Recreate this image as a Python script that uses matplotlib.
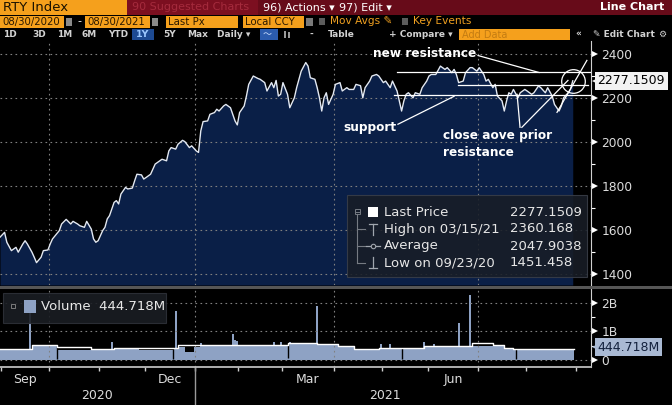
import matplotlib
matplotlib.use("Agg")
import matplotlib.pyplot as plt
import matplotlib.transforms as mtransforms
from matplotlib.patches import Rectangle
import pandas as pd

# RTY Index, Bloomberg line chart 08/30/2020 - 08/30/2021.
# x axis = trading session number counted from 08/31/2020 (Bloomberg skips non-trading days)
holidays = ["2020-09-07", "2020-11-26", "2020-12-25", "2021-01-01", "2021-01-18",
            "2021-02-15", "2021-04-02", "2021-05-31", "2021-07-05", "2021-09-06"]
sessions = pd.bdate_range("2020-08-31", "2021-09-03")
sessions = sessions[~sessions.isin(pd.to_datetime(holidays))]

price_day = [0, 2, 3, 5, 7, 8, 10, 11, 12, 14, 15, 16, 18, 19, 21, 22, 23, 26, 27, 29,
             31, 32, 34, 35, 37, 38, 40, 41, 42, 43, 45, 46, 47, 48, 50, 51, 52, 53, 55, 56,
             58, 59, 60, 62, 63, 64, 66, 67, 68, 70, 71, 73, 74, 75, 77, 78, 80, 81, 83, 84,
             86, 87, 88, 89, 91, 92, 94, 95, 96, 98, 99, 101, 102, 103, 104, 105, 107, 108, 109, 111,
             113, 114, 116, 117, 119, 120, 121, 122, 123, 124, 126, 127, 129, 130, 132, 134, 135, 136, 138, 139,
             140, 141, 142, 143, 144, 146, 147, 149, 150, 152, 153, 155, 156, 158, 159, 160, 162, 163, 165, 166,
             168, 169, 171, 172, 174, 175, 176, 177, 178, 179, 181, 182, 184, 185, 187, 188, 189, 191, 193, 195,
             196, 198, 199, 200, 201, 203, 204, 206, 207, 209, 210, 212, 213, 214, 216, 217, 218, 220, 221, 222,
             223, 224, 225, 227, 228, 230, 231, 233, 234, 236, 237, 239, 240, 242, 243, 245, 246, 247, 249, 250,
             251]
price_val = [1567, 1589, 1544, 1506, 1521, 1499, 1536, 1551, 1536, 1499, 1476, 1451.46, 1476, 1506, 1509, 1536, 1559, 1597, 1627, 1648,
             1627, 1639, 1627, 1619, 1612, 1639, 1604, 1559, 1544, 1551, 1597, 1612, 1650, 1665, 1725, 1733, 1718, 1763, 1793, 1786,
             1790, 1823, 1853, 1850, 1831, 1838, 1853, 1876, 1899, 1914, 1921, 1914, 1959, 1974, 1967, 1989, 2007, 2001, 1974, 1982,
             1959, 1952, 2050, 2092, 2095, 2125, 2133, 2148, 2140, 2163, 2170, 2155, 2125, 2095, 2077, 2133, 2163, 2208, 2261, 2299,
             2288, 2284, 2269, 2231, 2269, 2246, 2279, 2208, 2216, 2269, 2216, 2155, 2200, 2246, 2321, 2360.17, 2344, 2291, 2284, 2246,
             2200, 2140, 2200, 2223, 2170, 2216, 2261, 2269, 2231, 2246, 2238, 2238, 2261, 2255, 2200, 2246, 2276, 2299, 2306, 2299,
             2269, 2276, 2246, 2276, 2231, 2186, 2140, 2186, 2216, 2223, 2200, 2223, 2216, 2246, 2276, 2299, 2306, 2306, 2344, 2329,
             2337, 2314, 2329, 2306, 2269, 2276, 2314, 2337, 2337, 2321, 2337, 2306, 2276, 2284, 2246, 2261, 2208, 2186, 2140, 2186,
             2223, 2216, 2238, 2200, 2223, 2238, 2231, 2216, 2223, 2254, 2246, 2223, 2246, 2208, 2170, 2140, 2163, 2200, 2223, 2238,
             2277.1509]

# volume, billions of shares
vol_step_day = [0, 14, 25, 40, 50, 61, 76, 78, 81, 85, 88, 105, 126, 139, 148, 155, 166, 186, 207, 221, 225]
vol_step_val = [0.375, 0.51, 0.37, 0.34, 0.40, 0.37, 0.40, 0.45, 0.30, 0.45, 0.48, 0.49, 0.55, 0.51, 0.45,
                0.34, 0.40, 0.45, 0.50, 0.40, 0.34]
vol_spike_day = [13, 49, 77, 88, 102, 103, 104, 120, 123, 127, 139, 167, 171, 186, 190, 201, 206]
vol_spike_val = [1.70, 0.62, 1.73, 0.60, 0.90, 0.70, 0.68, 0.63, 0.63, 0.62, 1.90, 0.57, 0.55, 0.63, 0.55, 1.30, 2.27]
vol_dip_day = [25, 76, 126, 176, 226]
vol_dip_val = [0.05, 0.05, 0.08, 0.05, 0.05]
vol_avg_day = [0, 14, 25, 40, 50, 76, 78, 88, 105, 126, 139, 148, 155, 166, 186, 207, 216, 221, 225]
vol_avg_val = [0.40, 0.53, 0.45, 0.38, 0.43, 0.44, 0.52, 0.52, 0.52, 0.58, 0.55, 0.50, 0.40, 0.44, 0.50,
               0.60, 0.52, 0.42, 0.38]
vol_last = 0.444718

# hand-drawn annotations (session, price)
ann_new_res = ([174, 258.5], [2317, 2317])
ann_mid_res = ([200.7, 257.7], [2260, 2260])
ann_support = ([172.7, 259], [2211, 2211])
ann_pointers = [([209.5, 236.2], [2392, 2315]),     # new resistance
                ([174.4, 199.0], [2080, 2207]),     # support
                ([227.9, 226.6], [2066, 2216]),     # close above prior resistance
                ([228.7, 248.9], [2066, 2279]),
                ([244.1, 257.2], [2134, 2370])]

W, H = 672, 405
fig = plt.figure(figsize=(W / 100, H / 100), dpi=100, facecolor="black")


def frame(x0, y0, x1, y1):
    return [x0 / W, 1 - y1 / H, (x1 - x0) / W, (y1 - y0) / H]


axp = fig.add_axes(frame(0, 41, 591, 285), facecolor="black")
axv = fig.add_axes(frame(0, 289, 591, 367), facecolor="black")
ui = fig.add_axes([0, 0, 1, 1], facecolor="none", zorder=5)
ui.set_xlim(0, W); ui.set_ylim(H, 0); ui.axis("off")

navy = "#0a1f47"
vol_col = "#8ea2c4"
grid_kw = dict(color="#808080", lw=0.8, ls=(0, (1.5, 3)))
tick_col = "#dcdcdc"

# month / quarter positions from the session calendar
mstart = [i for i in range(1, len(sessions)) if sessions[i].month != sessions[i - 1].month]
qstart = [i for i in mstart if sessions[i].month in (1, 4, 7, 10)]

# ---- price panel
axp.set_xlim(0, 259)
axp.set_ylim(1350, 2458)
axp.fill_between(price_day, price_val, axp.get_ylim()[0], color=navy, lw=0, zorder=1)
axp.plot(price_day, price_val, color="#e3e9f3", lw=1.0, zorder=3)
for v in range(1400, 2401, 200):
    axp.axhline(v, zorder=2, **grid_kw)
for q in qstart:
    axp.axvline(q - 0.5, zorder=2, **grid_kw)
axp.set_yticks(range(1400, 2401, 200))
axp.set_yticks(range(1500, 2400, 200), minor=True)
axp.yaxis.tick_right()
axp.tick_params(axis="y", which="major", length=0, pad=7.5, labelcolor=tick_col, labelsize=8.8)
axp.tick_params(axis="y", which="minor", length=3, width=0.8, color="white", direction="out")
axp.set_xticks([])
for sp in ("top", "left", "bottom"):
    axp.spines[sp].set_visible(False)
axp.spines["right"].set_color("#d0d0d0")
yb = mtransforms.blended_transform_factory(axp.transAxes, axp.transData)
for v in range(1400, 2401, 200):
    axp.plot(1.0065, v, marker=">", ms=4, color="white", mew=0, transform=yb, clip_on=False)

# annotations
for xs, ys in (ann_new_res, ann_mid_res, ann_support) + tuple(ann_pointers):
    axp.plot(xs, ys, color="white", lw=0.9, zorder=4)
axp.plot(price_day[-1], price_val[-1], marker="o", ms=17, mfc="none", mec="white", mew=0.9, zorder=4)
txt_kw = dict(color="white", fontsize=8.7, fontweight="bold", zorder=6)
axp.text(186.2, 2401, "new resistance", ha="center", va="center", **txt_kw)
axp.text(162.1, 2066, "support", ha="center", va="center", **txt_kw)
axp.text(194.1, 2030, "close aove prior", ha="left", va="center", **txt_kw)
axp.text(194.1, 1953, "resistance", ha="left", va="center", **txt_kw)

axp.plot(1.0065, price_val[-1], marker="<", ms=5, color="#f2f2f2", mew=0, transform=yb, clip_on=False, zorder=7)
axp.text(1.011, price_val[-1], f"{price_val[-1]:.4f}", transform=yb, ha="left", va="center",
         fontsize=9, color="black", clip_on=False, zorder=7,
         bbox=dict(boxstyle="square,pad=0.2", fc="#f2f2f2", ec="none"))

# ---- volume panel
end = price_day[-1] + 0.5
axv.set_xlim(0, 259)
axv.set_ylim(-0.24, 2.48)
axv.fill_between(vol_step_day + [end], vol_step_val + [vol_step_val[-1]], 0, step="post",
                 color=vol_col, lw=0, zorder=1)
axv.bar(vol_spike_day, vol_spike_val, width=0.9, color=vol_col, lw=0, zorder=1)
axv.vlines(vol_dip_day, vol_dip_val, 0.6, color="black", lw=1, zorder=2)
axv.step(vol_avg_day + [end], vol_avg_val + [vol_avg_val[-1]], where="post", color="white", lw=1, zorder=3)
for v in (0, 1, 2):
    axv.axhline(v, zorder=2.5, **grid_kw)
for q in qstart:
    axv.axvline(q - 0.5, zorder=2.5, **grid_kw)
axv.set_yticks([0, 1, 2])
axv.set_yticklabels(["0", "1B", "2B"])
axv.set_yticks([0.5, 1.5], minor=True)
axv.yaxis.tick_right()
axv.tick_params(axis="y", which="major", length=0, pad=7.5, labelcolor=tick_col, labelsize=8.8)
axv.tick_params(axis="y", which="minor", length=3, width=0.8, color="white", direction="out")
axv.set_xticks([m - 0.5 for m in mstart])
axv.set_xticklabels([])
axv.tick_params(axis="x", which="major", length=3, width=1, color="#cfcfcf", direction="out")
for sp in ("top", "left"):
    axv.spines[sp].set_visible(False)
axv.spines["right"].set_color("#d0d0d0")
axv.spines["bottom"].set_color("#bdbdbd")
axv.spines["bottom"].set_linewidth(1.3)
vb = mtransforms.blended_transform_factory(axv.transAxes, axv.transData)
for v in (0, 1, 2):
    axv.plot(1.0065, v, marker=">", ms=4, color="white", mew=0, transform=vb, clip_on=False)
axv.plot(1.0065, vol_last, marker="<", ms=5, color="#a9b9d3", mew=0, transform=vb, clip_on=False, zorder=7)
axv.text(1.011, vol_last, f"{vol_last * 1000:.3f}M", transform=vb, ha="left", va="center",
         fontsize=9, color="#13213d", clip_on=False, zorder=7,
         bbox=dict(boxstyle="square,pad=0.2", fc="#a9b9d3", ec="none"))

# month / year labels under the volume panel
xb = mtransforms.blended_transform_factory(axv.transData, axv.transAxes)
ndata = price_day[-1] + 1
for lab, yr, mo in (("Sep", 2020, 9), ("Dec", 2020, 12), ("Mar", 2021, 3), ("Jun", 2021, 6)):
    idx = [i for i in range(ndata) if sessions[i].year == yr and sessions[i].month == mo]
    axv.text((idx[0] + idx[-1]) / 2, -0.155, lab, transform=xb, ha="center", va="center",
             color=tick_col, fontsize=9, clip_on=False)
for yr in (2020, 2021):
    idx = [i for i in range(ndata) if sessions[i].year == yr]
    axv.text((idx[0] + idx[-1]) / 2, -0.36, str(yr), transform=xb, ha="center", va="center",
             color=tick_col, fontsize=9, clip_on=False)
ystart = [i for i in range(1, ndata) if sessions[i].year != sessions[i - 1].year][0]
axv.plot([ystart - 0.5] * 2, [0, -0.5], color="#9a9a9a", lw=1, transform=xb, clip_on=False)

# ---- terminal chrome
def t(x, y, s, **kw):
    kw.setdefault("va", "center")
    ui.text(x, y, s, **kw)


def rect(x, y, w, h, **kw):
    ui.add_patch(Rectangle((x, y), w, h, lw=kw.pop("lw", 0), **kw))


orange = "#f5a01c"
rect(0, 0, 127, 15, fc=orange)
rect(127, 0, 131, 15, fc="#7c0f20")
rect(258, 0, 414, 15, fc="#670b19")
t(3, 7.5, "RTY Index", color="#1b1200", fontsize=9.5)
t(132, 7.5, "90 Suggested Charts", color="#a52b3d", fontsize=8)
t(263, 7.5, "96) Actions ▾", color="white", fontsize=8)
t(339, 7.5, "97) Edit ▾", color="white", fontsize=8)
t(664, 7.5, "Line Chart", color="white", fontsize=8, fontweight="bold", ha="right")

for x0, x1, s in ((0, 64, "08/30/2020"), (85, 150, "08/30/2021"), (166, 238, "Last Px"), (243, 304, "Local CCY")):
    rect(x0, 16, x1 - x0, 11.5, fc=orange)
    t(x0 + 2, 22, s, color="#2a1800", fontsize=7.3)
for x0 in (66, 152):
    rect(x0, 17.5, 6, 8, fc="#8a8a8a")
t(77, 21.5, "-", color="white", fontsize=8)
rect(306, 17.5, 7, 8, fc="#7a7a7a")
rect(319, 18, 6, 6.5, fc="#5c5c5c")
t(330, 21.5, "Mov Avgs ✎", color="#f0a020", fontsize=7.6)
rect(402, 18, 6, 6.5, fc="#5c5c5c")
t(413, 21.5, "Key Events", color="#f0a020", fontsize=7.6)

rect(132, 29, 22, 11, fc="#1d4a92")
rect(260, 29, 18, 11, fc="#2b5cae")
bar_kw = dict(color="#d2d2d2", fontsize=6.5, fontweight="bold")
for x, s in ((3, "1D"), (32, "3D"), (57, "1M"), (82, "6M"), (108, "YTD"), (163, "5Y"),
             (187, "Max"), (217, "Daily ▾"), (309, "-"), (328, "Table"),
             (389, "+ Compare ▾"), (575, "«"), (593, "✎ Edit Chart"), (658, "⚙")):
    t(x, 34.5, s, **bar_kw)
t(136, 34.5, "1Y", color="#9cc8ff", fontsize=6.8, fontweight="bold")
t(263, 34.5, "〜", color="#cfe2ff", fontsize=6.5, family=["DejaVu Sans", "Noto Sans CJK JP"])
# candle-chart icon
rect(284, 31, 1.5, 7, fc="#9a9a9a")
rect(288, 32, 1.5, 6, fc="#9a9a9a")
rect(459, 29, 111, 11, fc=orange)
t(462, 34.5, "Add Data", color="#c47c12", fontsize=7)

# panel divider
rect(0, 285.5, W, 3, fc="#565656")

# price legend
rect(347, 195, 240, 82, fc="#181d26", ec="#3a3f49", lw=0.8, alpha=0.88)
leg_kw = dict(color="#e6e6e6", fontsize=9.5)
tree = "#767b83"
ui.plot([357, 357], [214, 263], color=tree, lw=0.8)
for y in (229, 246, 263):
    ui.plot([357, 365], [y, y], color=tree, lw=0.8)
rect(354.5, 209, 5, 5, fc="none", ec=tree, lw=0.7)
ui.plot([355.5, 358.5], [211.5, 211.5], color=tree, lw=0.7)
rect(368, 206.5, 10, 10, fc="white")
ui.plot([369, 377], [223.5, 223.5], color="#a0a6ae", lw=0.9)
ui.plot([373, 373], [223.5, 235], color="#a0a6ae", lw=0.9)
ui.plot([366, 380], [246, 246], color="#a0a6ae", lw=0.9)
ui.plot([373], [246], marker="o", ms=3.2, mfc="#181d26", mec="#a0a6ae", mew=0.8)
ui.plot([373, 373], [257, 268], color="#a0a6ae", lw=0.9)
ui.plot([369, 377], [268, 268], color="#a0a6ae", lw=0.9)
rows = (("Last Price", f"{price_val[-1]:.4f}"), ("High on 03/15/21", "2360.168"),
        ("Average", "2047.9038"), ("Low on 09/23/20", "1451.458"))
for (lab, val), y in zip(rows, (212, 229, 246, 263)):
    t(384, y, lab, **leg_kw)
    t(510, y, val, **leg_kw)

# volume legend
rect(3, 293, 163, 30, fc="#1a1d23", ec="#2e3139", lw=0.8, alpha=0.9)
rect(11, 304, 4, 4, fc="none", ec="#8a8a8a", lw=0.6)
rect(24, 300, 12, 13, fc=vol_col)
t(41, 307, f"Volume  {vol_last * 1000:.3f}M", color="#e8e8e8", fontsize=9.5)

fig.savefig("out.png", dpi=100, facecolor="black")
